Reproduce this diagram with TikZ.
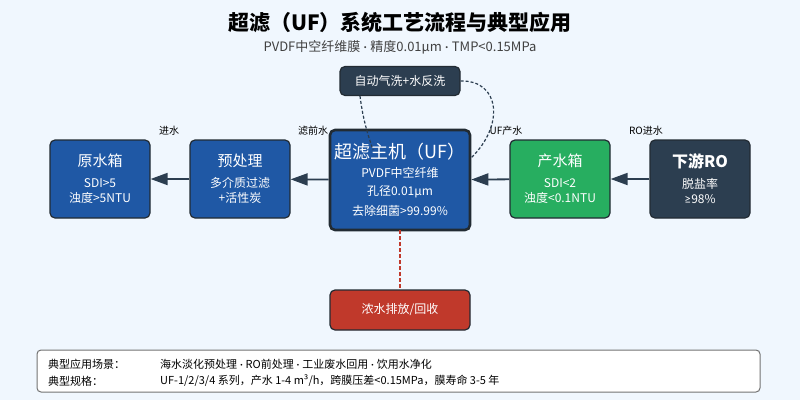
\documentclass[tikz,border=0pt]{standalone}
\usepackage{fontspec}
\setmainfont{Noto Sans CJK SC}
\newfontfamily\lat{Lato}
\usetikzlibrary{arrows.meta}
\definecolor{bgcol}{HTML}{F0F7FE}
\definecolor{ufblue}{HTML}{1F58A5}
\definecolor{okgreen}{HTML}{27AE60}
\definecolor{slate}{HTML}{2C3E50}
\definecolor{waste}{HTML}{C0392B}
\definecolor{edge}{HTML}{222B33}
\newcommand{\fs}[1]{\fontsize{#1}{#1}\selectfont}
\newcommand{\sep}{{\lat\ ·\ }}
\tikzset{
  unit/.style={draw=edge, line width=1.2pt, rounded corners=5pt, text=white,
    align=center, inner sep=0pt, minimum width=100pt, minimum height=78pt},
  flow/.style={draw=slate, line width=1.8pt, -{Triangle[length=17pt,width=12pt]}},
  tag/.style={font=\fs{10}, text=black, inner sep=0pt},
  washline/.style={draw=slate, dashed, line width=1.2pt, dash pattern=on 3pt off 2pt}
}
\begin{document}
\begin{tikzpicture}[x=1pt,y=-1pt]
\fill[bgcol] (0,0) rectangle (800,400);
\useasboundingbox (0,0) rectangle (800,400);
% title
\node (title) at (400,22) {\fs{21}\bfseries 超滤（UF）系统工艺流程与典型应用};
\node (subtitle) at (400,47) [text=black!75] {\fs{13}PVDF中空纤维膜\sep 精度0.01µm\sep TMP<0.15MPa};
% process units
\node (raw) at (100,179) [unit, fill=ufblue]
  {\fs{15}原水箱\\[9pt]\fs{12}SDI>5\\[3pt]\fs{12}浊度>5NTU};
\node (pre) at (240,179) [unit, fill=ufblue]
  {\fs{15}预处理\\[9pt]\fs{12}多介质过滤\\[3pt]\fs{12}+活性炭};
\node (uf) at (400,180) [unit, fill=ufblue, line width=2.6pt, minimum width=140pt, minimum height=100pt]
  {\fs{18}超滤主机（UF）\\[7pt]\fs{12}PVDF中空纤维\\[6pt]\fs{12}孔径0.01µm\\[6pt]\fs{12}去除细菌>99.99\%};
\node (prod) at (560,179) [unit, fill=okgreen]
  {\fs{15}产水箱\\[9pt]\fs{12}SDI<2\\[3pt]\fs{12}浊度<0.1NTU};
\node (ro) at (700,179) [unit, fill=slate]
  {\fs{16}\bfseries 下游RO\\[9pt]\fs{12}脱盐率\\[3pt]\fs{12}{\lat ≥}98\%};
\node (wash) at (400,81) [unit, fill=slate, minimum width=120pt, minimum height=29pt] {\fs{12}自动气洗+水反洗};
\node (conc) at (400,310) [unit, fill=waste, minimum width=140pt, minimum height=40pt] {\fs{12}浓水排放/回收};
% flows
\draw[flow] (pre) -- (raw);
\draw[flow] (uf) -- (pre);
\draw[flow] (prod) -- (uf);
\draw[flow] (ro) -- (prod);
\node[tag] (t1) at (169,131) {进水};
\node[tag] (t2) at (313,131) {滤前水};
\node[tag] (t3) at (506,131) {UF产水};
\node[tag] (t4) at (646,131) {RO进水};
% backwash loop
\coordinate (wl) at (360,96);
\coordinate (ufl) at (373,150);
\coordinate (ufr) at (471,158);
\draw[washline] (wl) .. controls (363,120) and (368,135) .. (ufl);
\draw[washline] (wash.east) .. controls (500,80) and (505,125) .. (ufr);
\draw[draw=waste, dashed, line width=1.5pt, dash pattern=on 3.5pt off 2.5pt] (uf) ++(0,50) -- (conc);
% info box
\node (info) at (398.5,371) [draw=black!55, line width=1pt, fill=white, rounded corners=4pt,
  minimum width=723pt, minimum height=42pt] {};
\node[anchor=west, inner sep=0pt] (k1) at (48,364) {\fs{11}典型应用场景：};
\node[anchor=west, inner sep=0pt] (v1) at (160,364) {\fs{11}海水淡化预处理\sep RO前处理\sep 工业废水回用\sep 饮用水净化};
\node[anchor=west, inner sep=0pt] (k2) at (48,381) {\fs{11}典型规格：};
\node[anchor=west, inner sep=0pt] (v2) at (160,381) {\fs{11}UF-1/2/3/4 系列，产水 1-4 m³/h，跨膜压差<0.15MPa，膜寿命 3-5 年};
\end{tikzpicture}
\end{document}
